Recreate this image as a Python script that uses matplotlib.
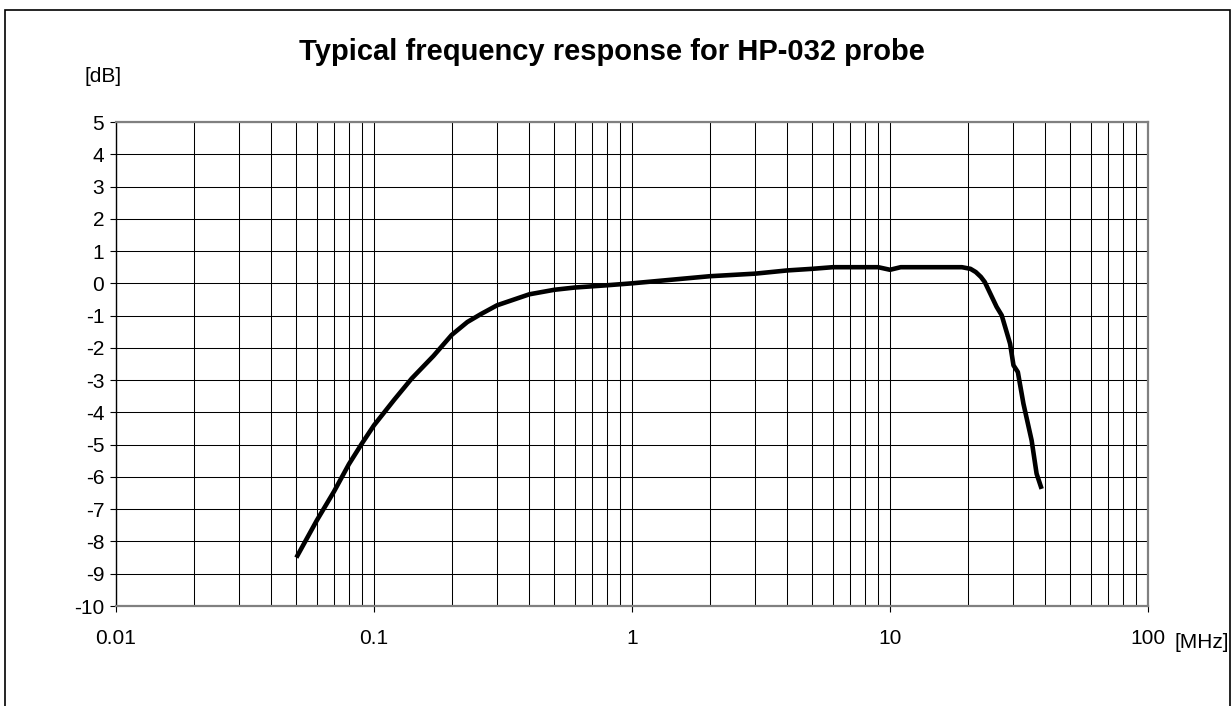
import matplotlib

matplotlib.use("Agg")

import matplotlib.pyplot as plt
from matplotlib.patches import Rectangle
from matplotlib.ticker import FixedLocator, NullFormatter

# Frequency response
freq_mhz = [0.05, 0.06, 0.07, 0.08, 0.09, 0.10, 0.12, 0.14, 0.17, 0.20, 0.23,
            0.26, 0.30, 0.40, 0.50, 0.60, 0.80, 1.0, 2.0, 3.0, 4.0, 5.0, 6.0,
            9.0, 10.0, 11.0, 15.0, 19.0, 20.5, 21.5, 22.5, 23.3, 25.9, 27.1,
            29.2, 30.1, 31.3, 32.9, 35.4, 37.0, 38.7]
gain_db = [-8.5, -7.35, -6.45, -5.6, -4.95, -4.4, -3.6, -2.95, -2.25, -1.6,
           -1.2, -0.95, -0.68, -0.34, -0.2, -0.13, -0.06, 0.0, 0.22, 0.3, 0.4,
           0.45, 0.5, 0.5, 0.42, 0.5, 0.5, 0.5, 0.45, 0.35, 0.2, 0.04, -0.73,
           -0.99, -1.87, -2.54, -2.75, -3.73, -4.87, -5.9, -6.37]

x_ticks = [0.01, 0.1, 1, 10, 100]
x_tick_labels = ["0.01", "0.1", "1", "10", "100"]
y_ticks = list(range(-10, 6))

TITLE = "Typical frequency response for HP-032 probe"
FONT = ["Liberation Sans", "DejaVu Sans"]
LABEL_SIZE = 15

plt.rcParams["font.family"] = FONT

W, H = 1231, 706
fig = plt.figure(figsize=(W / 100, H / 100), dpi=100)
ax = fig.add_axes([116 / W, 1 - 606 / H, (1148 - 116) / W, (606 - 122) / H])

ax.set_xscale("log")
ax.set_xlim(0.01, 100)
ax.set_ylim(-10, 5)

minor = [m * 10.0 ** e for e in range(-2, 2) for m in range(2, 10)]
ax.xaxis.set_major_locator(FixedLocator(x_ticks))
ax.xaxis.set_minor_locator(FixedLocator(minor))
ax.xaxis.set_minor_formatter(NullFormatter())
ax.set_xticklabels(x_tick_labels)
ax.yaxis.set_major_locator(FixedLocator(y_ticks))
ax.set_yticklabels([str(v) for v in y_ticks])

grid_kw = dict(color="black", linewidth=0.75)
ax.grid(True, which="major", axis="both", **grid_kw)
ax.grid(True, which="minor", axis="x", **grid_kw)
ax.set_axisbelow(True)

ax.tick_params(axis="x", which="major", direction="out", length=4.5, width=0.8,
               pad=12, labelsize=LABEL_SIZE)
ax.tick_params(axis="x", which="minor", length=0)
ax.tick_params(axis="y", direction="out", length=4.5, width=0.8, pad=4,
               labelsize=LABEL_SIZE)

for side in ("top", "right", "bottom"):
    ax.spines[side].set_color("#808080")
    ax.spines[side].set_linewidth(1.6)
ax.spines["left"].set_color("black")
ax.spines["left"].set_linewidth(1.0)

ax.plot(freq_mhz, gain_db, color="black", linewidth=3.3, solid_capstyle="butt",
        solid_joinstyle="round", zorder=5)

fig.text(612 / W, 1 - 60 / H, TITLE, ha="center", va="baseline",
         fontsize=21, fontweight="bold")
fig.text(103 / W, 1 - 77 / H, "[dB]", ha="center", va="center",
         fontsize=LABEL_SIZE)
fig.text(1174 / W, 1 - 642 / H, "[MHz]", ha="left", va="center",
         fontsize=LABEL_SIZE)

# outer frame around the whole chart
fig.patches.append(Rectangle((5 / W, -0.02), (1229.5 - 5) / W, 0.02 + 1 - 10 / H,
                             transform=fig.transFigure, fill=False,
                             edgecolor="black", linewidth=1.2))

fig.savefig("out.png", dpi=100)
